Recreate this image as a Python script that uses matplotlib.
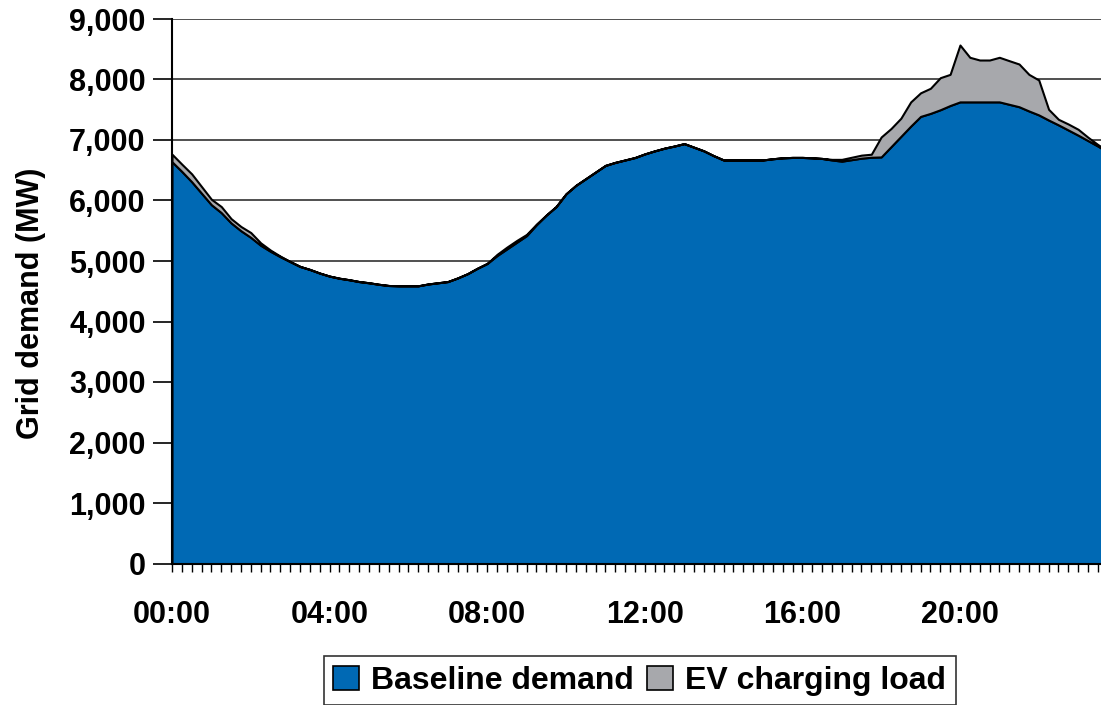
import numpy as np
import matplotlib
matplotlib.use('Agg')
import matplotlib.pyplot as plt
from matplotlib.patches import Patch
from matplotlib.ticker import FuncFormatter, MultipleLocator

plt.rcParams['font.family'] = ['Liberation Sans', 'DejaVu Sans']
plt.rcParams['font.weight'] = 'bold'

# ── Data: 15-minute steps over the day ───────────────────────
hours = np.arange(96) * 0.25

baseline_mw = [
    6640, 6480, 6310, 6120, 5930, 5800, 5630, 5500,   # 00:00-01:45
    5390, 5260, 5160, 5070, 4990, 4910, 4860, 4800,   # 02:00-03:45
    4750, 4715, 4690, 4660, 4640, 4615, 4595, 4590,   # 04:00-05:45
    4590, 4590, 4620, 4640, 4660, 4720, 4790, 4880,   # 06:00-07:45
    4960, 5090, 5200, 5310, 5420, 5600, 5760, 5900,   # 08:00-09:45
    6110, 6250, 6360, 6470, 6580, 6630, 6670, 6710,   # 10:00-11:45
    6770, 6820, 6865, 6900, 6940, 6880, 6820, 6740,   # 12:00-13:45
    6670, 6670, 6670, 6670, 6670, 6690, 6705, 6712,   # 14:00-15:45
    6712, 6705, 6695, 6670, 6650, 6675, 6700, 6715,   # 16:00-17:45
    6720, 6890, 7060, 7230, 7390, 7440, 7500, 7570,   # 18:00-19:45
    7630, 7630, 7630, 7630, 7630, 7590, 7550, 7480,   # 20:00-21:45
    7415, 7330, 7250, 7165, 7080, 6990, 6900, 6800,   # 22:00-23:45
]

ev_load_mw = [
    125, 120, 130, 110, 90, 100, 70, 70,
    80, 40, 20, 10, 0, 0, 0, 0,
    0, 0, 0, 0, 0, 0, 0, 0,
    0, 0, 0, 0, 0, 0, 0, 0,
    0, 20, 30, 30, 20, 10, 0, 0,
    0, 0, 0, 0, 0, 0, 0, 0,
    0, 0, 0, 0, 0, 0, 0, 0,
    0, 0, 0, 0, 0, 0, 0, 0,
    0, 0, 0, 10, 30, 40, 50, 50,
    330, 300, 300, 400, 390, 415, 530, 515,
    940, 737, 692, 692, 737, 721, 706, 605,
    577, 177, 92, 99, 97, 55, 25, 20,
]

series_names = ['Baseline demand', 'EV charging load']
hour_ticks   = [0, 4, 8, 12, 16, 20]
hour_labels  = ['00:00', '04:00', '08:00', '12:00', '16:00', '20:00']

BLUE = '#0069B4'
GREY = '#A7A8AC'

# ── Plot ──────────────────────────────────────────────────────
fig = plt.figure(figsize=(11.01, 7.05), dpi=100)
ax = fig.add_axes([172/1101, 1 - 563.5/705, 1 - 172/1101, (563.5 - 19)/705])

ax.stackplot(hours, baseline_mw, ev_load_mw, colors=[BLUE, GREY],
             edgecolor='black', linewidth=1.5, zorder=3)

ax.set_xlim(0, 23.58)
ax.set_ylim(0, 9000)

ax.set_yticks(np.arange(0, 9001, 1000))
ax.yaxis.set_major_formatter(FuncFormatter(lambda v, _: f'{v:,.0f}'))
ax.grid(axis='y', color='#202020', lw=1.1, zorder=0)
ax.set_axisbelow(True)

ax.set_xticks(hour_ticks)
ax.set_xticklabels(hour_labels)
ax.xaxis.set_minor_locator(MultipleLocator(0.25))

ax.tick_params(axis='y', length=14, width=1.2, pad=5, labelsize=22, color='black')
ax.tick_params(axis='x', which='both', length=6, width=1.0, direction='out')
ax.tick_params(axis='x', which='major', pad=20, labelsize=22)

for s in ['top', 'right']:
    ax.spines[s].set_visible(False)
ax.spines['left'].set_linewidth(1.5)
ax.spines['bottom'].set_linewidth(1.5)
ax.spines['left'].set_zorder(4)

ax.set_ylabel('Grid demand (MW)', fontsize=22, fontweight='bold')
ax.yaxis.label.set_va('center')
ax.yaxis.set_label_coords(-0.152, 0.477)

handles = [Patch(facecolor=BLUE, edgecolor='black', lw=1.2),
           Patch(facecolor=GREY, edgecolor='black', lw=1.2)]
leg = fig.legend(handles, series_names, loc='upper center',
                 bbox_to_anchor=(0.581, 1 - 656/705), ncol=2,
                 fontsize=23, frameon=True, fancybox=False,
                 handlelength=0.8, handleheight=0.8, handletextpad=0.4,
                 columnspacing=0.4, borderpad=0.3, borderaxespad=0)
leg.get_frame().set_edgecolor('black')
leg.get_frame().set_linewidth(1.2)

plt.savefig('out.png', dpi=100)
plt.close()
